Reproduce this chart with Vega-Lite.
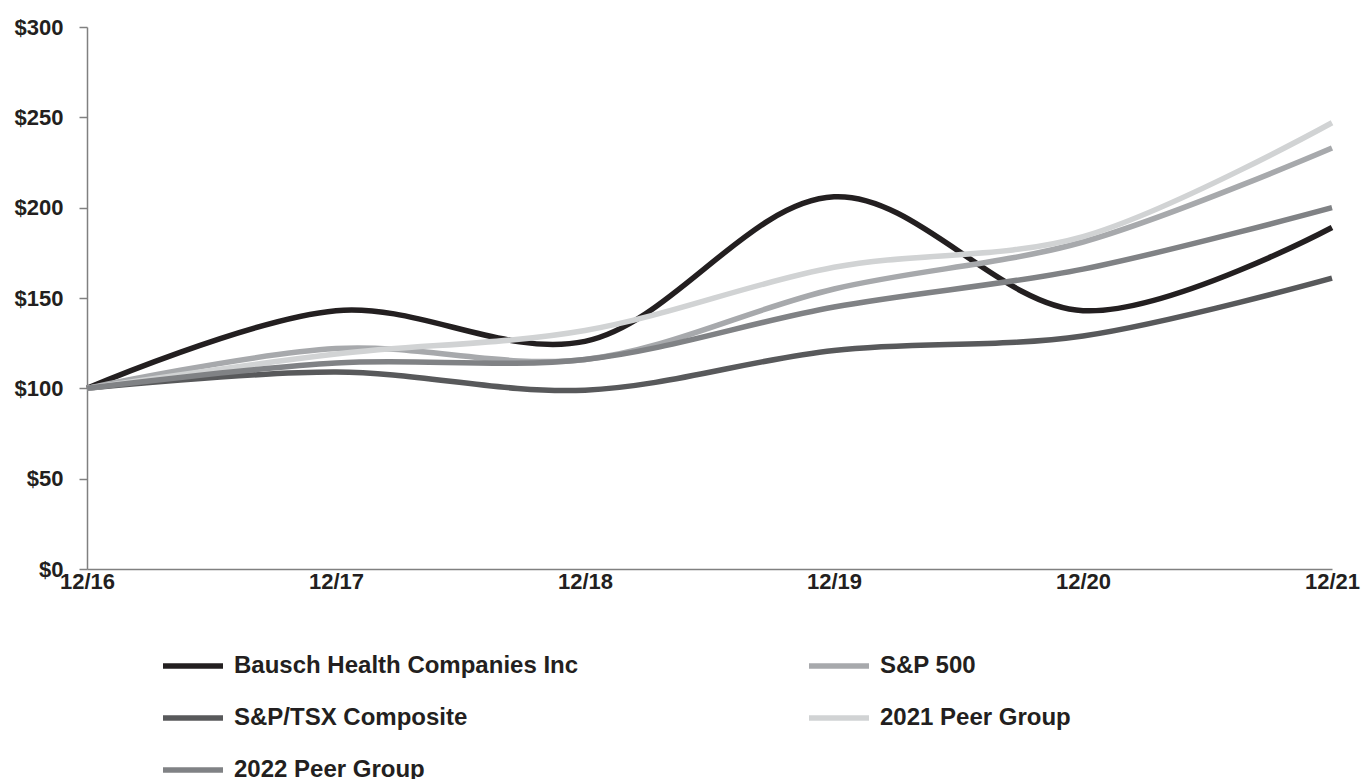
{
  "$schema": "https://vega.github.io/schema/vega-lite/v6.json",
  "autosize": {"type": "none"},
  "width": 1245,
  "height": 542,
  "padding": {"left": 87, "top": 27, "right": 30, "bottom": 210},
  "background": "white",
  "config": {"view": {"stroke": null}, "font": "Liberation Sans"},
  "data": {
    "values": [
      {"period": "12/16", "series": "Bausch Health Companies Inc", "value": 100},
      {"period": "12/17", "series": "Bausch Health Companies Inc", "value": 143},
      {"period": "12/18", "series": "Bausch Health Companies Inc", "value": 126},
      {"period": "12/19", "series": "Bausch Health Companies Inc", "value": 206},
      {"period": "12/20", "series": "Bausch Health Companies Inc", "value": 143},
      {"period": "12/21", "series": "Bausch Health Companies Inc", "value": 189},
      {"period": "12/16", "series": "S&P 500", "value": 100},
      {"period": "12/17", "series": "S&P 500", "value": 122},
      {"period": "12/18", "series": "S&P 500", "value": 116},
      {"period": "12/19", "series": "S&P 500", "value": 155},
      {"period": "12/20", "series": "S&P 500", "value": 181},
      {"period": "12/21", "series": "S&P 500", "value": 233},
      {"period": "12/16", "series": "S&P/TSX Composite", "value": 100},
      {"period": "12/17", "series": "S&P/TSX Composite", "value": 109},
      {"period": "12/18", "series": "S&P/TSX Composite", "value": 99},
      {"period": "12/19", "series": "S&P/TSX Composite", "value": 121},
      {"period": "12/20", "series": "S&P/TSX Composite", "value": 129},
      {"period": "12/21", "series": "S&P/TSX Composite", "value": 161},
      {"period": "12/16", "series": "2021 Peer Group", "value": 100},
      {"period": "12/17", "series": "2021 Peer Group", "value": 119},
      {"period": "12/18", "series": "2021 Peer Group", "value": 132},
      {"period": "12/19", "series": "2021 Peer Group", "value": 167},
      {"period": "12/20", "series": "2021 Peer Group", "value": 184},
      {"period": "12/21", "series": "2021 Peer Group", "value": 247},
      {"period": "12/16", "series": "2022 Peer Group", "value": 100},
      {"period": "12/17", "series": "2022 Peer Group", "value": 114},
      {"period": "12/18", "series": "2022 Peer Group", "value": 116},
      {"period": "12/19", "series": "2022 Peer Group", "value": 145},
      {"period": "12/20", "series": "2022 Peer Group", "value": 166},
      {"period": "12/21", "series": "2022 Peer Group", "value": 200}
    ]
  },
  "mark": {"type": "line", "interpolate": "catmull-rom", "strokeWidth": 5.5},
  "encoding": {
    "x": {
      "field": "period", "type": "ordinal", "title": null,
      "scale": {"type": "point", "padding": 0},
      "axis": {
        "labelAngle": 0, "labelFont": "Liberation Sans", "labelFontWeight": "bold",
        "labelFontSize": 22, "labelColor": "#231f20", "ticks": false,
        "labelPadding": 2, "domainColor": "#808080", "domainWidth": 1.5, "grid": false
      }
    },
    "y": {
      "field": "value", "type": "quantitative", "title": null,
      "scale": {"domain": [0, 300], "nice": false},
      "axis": {
        "values": [0, 50, 100, 150, 200, 250, 300],
        "labelExpr": "'$' + datum.value",
        "labelFont": "Liberation Sans", "labelFontWeight": "bold", "labelFontSize": 22,
        "labelColor": "#231f20", "tickSize": 8, "tickColor": "#808080", "tickWidth": 1.5,
        "labelPadding": 16, "domainColor": "#808080", "domainWidth": 1.5, "grid": false
      }
    },
    "color": {
      "field": "series", "type": "nominal", "title": null,
      "scale": {
        "domain": ["Bausch Health Companies Inc", "S&P/TSX Composite", "2022 Peer Group", "S&P 500", "2021 Peer Group"],
        "range": ["#231f20", "#58595b", "#808285", "#a7a9ac", "#d1d3d4"]
      },
      "legend": {
        "orient": "none", "legendX": 73, "legendY": 606, "columns": 2,
        "symbolType": "stroke", "symbolSize": 3600, "symbolStrokeWidth": 5.5,
        "labelFont": "Liberation Sans", "labelFontWeight": "bold", "labelFontSize": 24,
        "labelColor": "#231f20", "labelOffset": 8, "labelLimit": 600,
        "columnPadding": 219, "rowPadding": 7
      }
    }
  }
}
